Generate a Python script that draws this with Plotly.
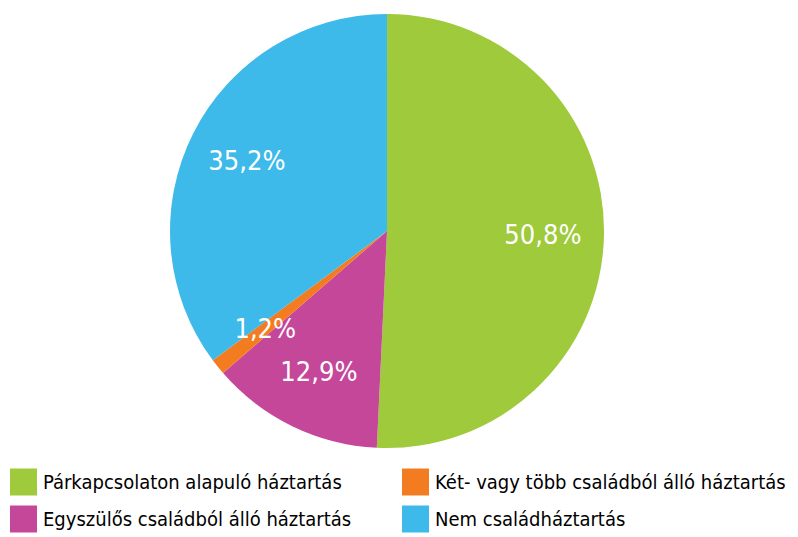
import math
import plotly.graph_objects as go

categories = ["Párkapcsolaton alapuló háztartás", "Egyszülős családból álló háztartás",
              "Két- vagy több családból álló háztartás", "Nem családháztartás"]
values = [50.8, 12.9, 1.2, 35.2]
value_labels = ["50,8%", "12,9%", "1,2%", "35,2%"]
colors = ["#9ECA3B", "#C4479A", "#F47C20", "#3DB9EA"]

W, H = 798, 537
FONT = "DejaVu Sans"

# pie placement (paper coords)
dom_x = [0.0, 0.97]
dom_y = [1 - 448 / H, 1 - 14 / H]

fig = go.Figure(go.Pie(
    labels=categories, values=values, sort=False, direction="clockwise", rotation=0,
    marker=dict(colors=colors, line=dict(width=0)),
    textinfo="none", hoverinfo="label+percent", showlegend=False,
    domain=dict(x=dom_x, y=dom_y),
))

# value labels placed along each slice's mid-angle
cx_px = (dom_x[0] + dom_x[1]) / 2 * W
cy_px = H * (1 - (dom_y[0] + dom_y[1]) / 2)
R = (dom_y[1] - dom_y[0]) * H / 2
total = sum(values)
cum = 0
annotations = []
for v, t in zip(values, value_labels):
    mid = (cum + v / 2) / total * 2 * math.pi
    cum += v
    px = cx_px + 0.72 * R * math.sin(mid)
    py = cy_px - 0.72 * R * math.cos(mid)
    annotations.append(dict(x=px / W, y=1 - py / H, xref="paper", yref="paper",
                            xanchor="center", yanchor="middle",
                            text=t, showarrow=False,
                            font=dict(family=FONT, size=27, color="white")))

# custom legend: 2 columns x 2 rows
legend_order = [0, 2, 1, 3]
pos = [(10, 482), (402, 482), (10, 519), (402, 519)]
shapes = []
for idx, (lx, ly) in zip(legend_order, pos):
    shapes.append(dict(type="rect", xref="paper", yref="paper",
                       x0=lx / W, x1=(lx + 27) / W, y0=1 - (ly + 13.5) / H, y1=1 - (ly - 13.5) / H,
                       fillcolor=colors[idx], line=dict(width=0)))
    annotations.append(dict(x=(lx + 31) / W, y=1 - ly / H, xref="paper", yref="paper",
                            xanchor="left", yanchor="middle", align="left",
                            text=categories[idx], showarrow=False,
                            font=dict(family=FONT, size=20, color="black")))

fig.update_layout(width=W, height=H, margin=dict(l=0, r=0, t=0, b=0),
                  paper_bgcolor="white", plot_bgcolor="white",
                  annotations=annotations, shapes=shapes)
post = """
document.body.style.margin='0';
document.querySelectorAll('text').forEach(function(e){ e.style.fontStretch='condensed'; });
"""
fig.write_html("out.html", post_script=post, config={"displayModeBar": False})
